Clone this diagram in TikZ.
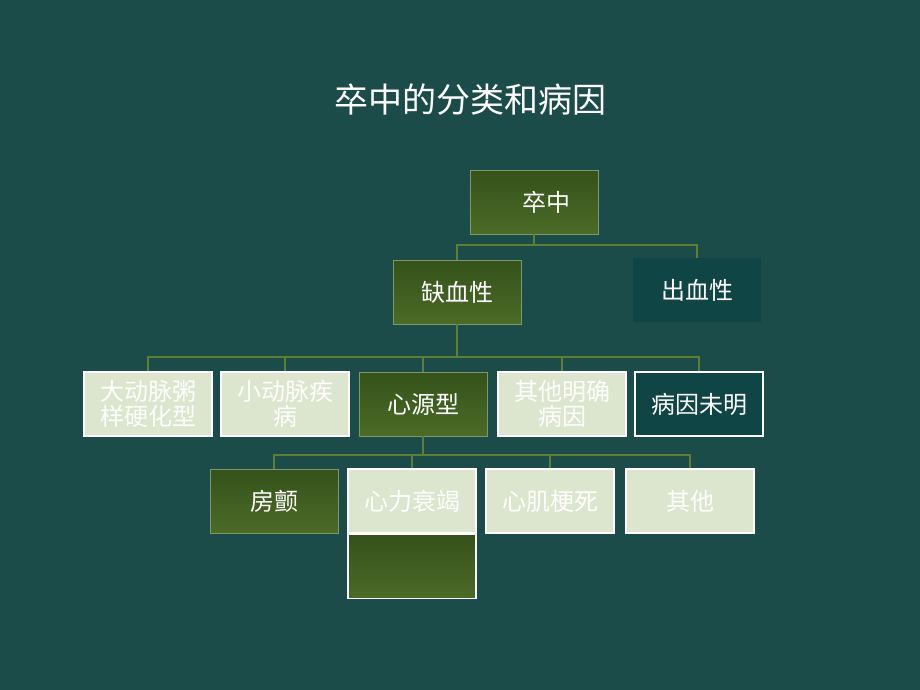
\documentclass[tikz,border=0pt]{standalone}
\usepackage{fontspec}
\setmainfont{Noto Sans CJK SC}
\usetikzlibrary{positioning}
\definecolor{bgteal}{HTML}{1B4C49}
\definecolor{darkteal}{HTML}{0F4645}
\definecolor{leafgreen}{HTML}{4B6B27}
\definecolor{leafdark}{HTML}{34521A}
\definecolor{paleleaf}{HTML}{DCE6CE}
\definecolor{linkgreen}{HTML}{5E7E34}
\tikzset{
  box/.style={minimum width=64pt, minimum height=32pt, inner sep=1pt, align=center,
    font=\fontsize{12pt}{12.5pt}\selectfont, text=white},
  greenbox/.style={box, draw=leafgreen!70!white, top color=leafdark, bottom color=leafgreen},
  palebox/.style={box, draw=white, line width=0.8pt, fill=paleleaf, text=white!97!paleleaf},
  tealbox/.style={box, fill=darkteal},
  outbox/.style={box, draw=white, line width=0.8pt, fill=darkteal},
  link/.style={draw=linkgreen, line width=1.2pt},
}
\begin{document}
\begin{tikzpicture}[x=0.5pt, y=-0.5pt]
  \fill[bgteal] (0,0) rectangle (920,690);
  \useasboundingbox (0,0) rectangle (920,690);

  % Title
  \node (title) [text=white, font=\fontsize{17pt}{19pt}\selectfont] at (470,100) {卒中的分类和病因};

  % Top levels
  \node (stroke) [greenbox] at (534,202) {\hspace*{12pt}卒中};
  \node (isch) [greenbox] at (457,292) {缺血性};
  \node (hem) [tealbox] at (697,290) {出血性};

  % Ischemic subtypes
  \node (large) [palebox] at (148,404) {大动脉粥\\样硬化型};
  \node (small) [palebox] at (285,404) {小动脉疾\\病};
  \node (cardio) [greenbox] at (423,404) {心源型};
  \node (other) [palebox] at (562,404) {其他明确\\病因};
  \node (unknown) [outbox] at (699,404) {病因未明};

  % Cardiac sources
  \node (af) [greenbox] at (274,501) {房颤};
  \node (hf) [palebox] at (412,501) {心力衰竭};
  \node (mi) [palebox] at (550,501) {心肌梗死};
  \node (etc) [palebox] at (690,501) {其他};
  \node (blank) [greenbox, draw=white, line width=0.8pt, below=0pt of hf] {};

  % Connectors
  \coordinate (j1) at (534,245);
  \draw[link] (stroke.south) -- (j1);
  \draw[link] (isch.north) |- (j1) -| (hem.north);
  \coordinate (j2) at (457,357);
  \draw[link] (isch.south) -- (j2);
  \foreach \n in {large,small,cardio,other,unknown}
    \draw[link] (\n.north) |- (j2);
  \coordinate (j3) at (423,455);
  \draw[link] (cardio.south) -- (j3);
  \foreach \n in {af,hf,mi,etc}
    \draw[link] (\n.north) |- (j3);
\end{tikzpicture}
\end{document}
